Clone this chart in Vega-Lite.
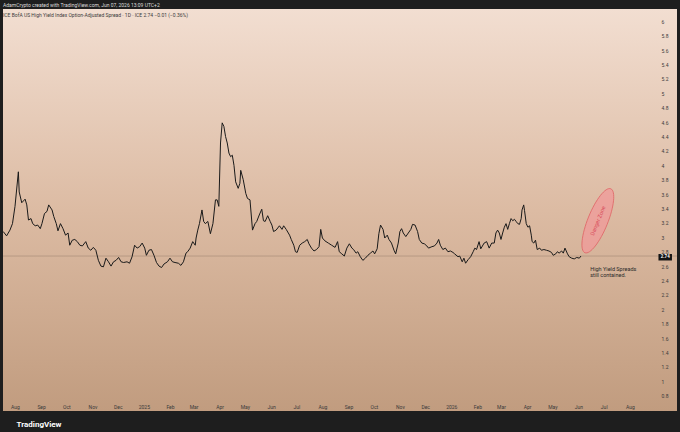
{
  "$schema": "https://vega.github.io/schema/vega-lite/v6.json",
  "width": 674,
  "height": 402,
  "autosize": {"type": "none"},
  "padding": {"left": 3, "top": 9, "right": 3, "bottom": 21},
  "background": "#1e1e1e",
  "config": {
    "font": "Roboto",
    "view": {
      "stroke": null,
      "fill": {"gradient": "linear", "x1": 0, "y1": 0, "x2": 0, "y2": 1,
        "stops": [{"offset": 0, "color": "#f2ded1"}, {"offset": 0.5, "color": "#dcbba3"}, {"offset": 1, "color": "#c19c7f"}]}
    },
    "axis": {"labelOverlap": false, "labelFlush": false, "domain": false, "ticks": false, "grid": false, "labelFontSize": 5, "labelColor": "#3a3a3a", "tickCount": 200},
    "axisX": {"labelPadding": 3, "labelBaseline": "top"},
    "axisY": {"labelPadding": 4, "labelAlign": "left"}
  },
  "title": {
    "text": "AdamCrypto created with TradingView.com, Jun 07, 2026 13:09 UTC+2",
    "subtitle": "\u00a0ICE BofA US High Yield Index Option-Adjusted Spread · 1D · ICE  2.74  −0.01 (−0.36%)",
    "anchor": "start",
    "frame": "group",
    "orient": "top",
    "offset": -8.5,
    "fontSize": 5,
    "fontWeight": "normal",
    "color": "#dddddd",
    "subtitleFontSize": 5,
    "subtitleColor": "#3b3b3b",
    "subtitlePadding": 4.5
  },
  "datasets": {
    "hy": [
      {"date": "2024-07-18", "spread": 3.08}, {"date": "2024-07-22", "spread": 3.02}, {"date": "2024-07-26", "spread": 3.10},
      {"date": "2024-07-29", "spread": 3.19}, {"date": "2024-08-01", "spread": 3.43}, {"date": "2024-08-05", "spread": 3.91},
      {"date": "2024-08-06", "spread": 3.63}, {"date": "2024-08-09", "spread": 3.48}, {"date": "2024-08-13", "spread": 3.53},
      {"date": "2024-08-15", "spread": 3.45}, {"date": "2024-08-17", "spread": 3.24}, {"date": "2024-08-20", "spread": 3.26},
      {"date": "2024-08-22", "spread": 3.19}, {"date": "2024-08-25", "spread": 3.16}, {"date": "2024-08-28", "spread": 3.17},
      {"date": "2024-08-31", "spread": 3.12}, {"date": "2024-09-02", "spread": 3.19}, {"date": "2024-09-05", "spread": 3.33},
      {"date": "2024-09-08", "spread": 3.36}, {"date": "2024-09-10", "spread": 3.45}, {"date": "2024-09-14", "spread": 3.38},
      {"date": "2024-09-16", "spread": 3.29}, {"date": "2024-09-19", "spread": 3.19}, {"date": "2024-09-21", "spread": 3.09},
      {"date": "2024-09-24", "spread": 3.19}, {"date": "2024-09-27", "spread": 3.12}, {"date": "2024-09-30", "spread": 3.03},
      {"date": "2024-10-03", "spread": 3.06}, {"date": "2024-10-05", "spread": 2.89}, {"date": "2024-10-08", "spread": 2.96},
      {"date": "2024-10-11", "spread": 2.97}, {"date": "2024-10-14", "spread": 2.94}, {"date": "2024-10-17", "spread": 2.89},
      {"date": "2024-10-20", "spread": 2.88}, {"date": "2024-10-24", "spread": 2.94}, {"date": "2024-10-27", "spread": 2.85},
      {"date": "2024-10-30", "spread": 2.82}, {"date": "2024-11-02", "spread": 2.86}, {"date": "2024-11-05", "spread": 2.82},
      {"date": "2024-11-08", "spread": 2.68}, {"date": "2024-11-11", "spread": 2.60}, {"date": "2024-11-14", "spread": 2.59},
      {"date": "2024-11-17", "spread": 2.71}, {"date": "2024-11-20", "spread": 2.66}, {"date": "2024-11-23", "spread": 2.60},
      {"date": "2024-11-26", "spread": 2.66}, {"date": "2024-11-29", "spread": 2.68}, {"date": "2024-12-02", "spread": 2.72},
      {"date": "2024-12-05", "spread": 2.66}, {"date": "2024-12-08", "spread": 2.65}, {"date": "2024-12-12", "spread": 2.66},
      {"date": "2024-12-15", "spread": 2.64}, {"date": "2024-12-18", "spread": 2.73}, {"date": "2024-12-21", "spread": 2.89},
      {"date": "2024-12-24", "spread": 2.85}, {"date": "2024-12-27", "spread": 2.87}, {"date": "2024-12-30", "spread": 2.92},
      {"date": "2025-01-02", "spread": 2.85}, {"date": "2025-01-04", "spread": 2.75}, {"date": "2025-01-07", "spread": 2.82},
      {"date": "2025-01-10", "spread": 2.83}, {"date": "2025-01-13", "spread": 2.75}, {"date": "2025-01-16", "spread": 2.65},
      {"date": "2025-01-19", "spread": 2.60}, {"date": "2025-01-22", "spread": 2.58}, {"date": "2025-01-25", "spread": 2.63},
      {"date": "2025-01-29", "spread": 2.66}, {"date": "2025-02-01", "spread": 2.71}, {"date": "2025-02-04", "spread": 2.66},
      {"date": "2025-02-07", "spread": 2.65}, {"date": "2025-02-11", "spread": 2.64}, {"date": "2025-02-14", "spread": 2.61},
      {"date": "2025-02-17", "spread": 2.66}, {"date": "2025-02-20", "spread": 2.78}, {"date": "2025-02-22", "spread": 2.80},
      {"date": "2025-02-25", "spread": 2.85}, {"date": "2025-02-28", "spread": 2.94}, {"date": "2025-03-03", "spread": 2.89},
      {"date": "2025-03-04", "spread": 2.99}, {"date": "2025-03-06", "spread": 3.10}, {"date": "2025-03-08", "spread": 3.19},
      {"date": "2025-03-11", "spread": 3.38}, {"date": "2025-03-13", "spread": 3.22}, {"date": "2025-03-15", "spread": 3.19},
      {"date": "2025-03-18", "spread": 3.22}, {"date": "2025-03-21", "spread": 3.05}, {"date": "2025-03-24", "spread": 3.19},
      {"date": "2025-03-27", "spread": 3.52}, {"date": "2025-03-29", "spread": 3.52}, {"date": "2025-03-31", "spread": 3.43},
      {"date": "2025-04-02", "spread": 4.31}, {"date": "2025-04-04", "spread": 4.59}, {"date": "2025-04-06", "spread": 4.54},
      {"date": "2025-04-08", "spread": 4.40}, {"date": "2025-04-10", "spread": 4.31}, {"date": "2025-04-12", "spread": 4.17},
      {"date": "2025-04-14", "spread": 4.12}, {"date": "2025-04-16", "spread": 4.14}, {"date": "2025-04-18", "spread": 4.00},
      {"date": "2025-04-20", "spread": 3.77}, {"date": "2025-04-23", "spread": 3.68}, {"date": "2025-04-25", "spread": 3.75},
      {"date": "2025-04-26", "spread": 3.93}, {"date": "2025-04-29", "spread": 3.80}, {"date": "2025-05-02", "spread": 3.61},
      {"date": "2025-05-04", "spread": 3.54}, {"date": "2025-05-07", "spread": 3.52}, {"date": "2025-05-10", "spread": 3.10},
      {"date": "2025-05-13", "spread": 3.19}, {"date": "2025-05-15", "spread": 3.22}, {"date": "2025-05-18", "spread": 3.31},
      {"date": "2025-05-21", "spread": 3.39}, {"date": "2025-05-23", "spread": 3.23}, {"date": "2025-05-25", "spread": 3.22},
      {"date": "2025-05-28", "spread": 3.30}, {"date": "2025-05-31", "spread": 3.22}, {"date": "2025-06-02", "spread": 3.17},
      {"date": "2025-06-04", "spread": 3.08}, {"date": "2025-06-07", "spread": 3.10}, {"date": "2025-06-11", "spread": 3.16},
      {"date": "2025-06-14", "spread": 3.11}, {"date": "2025-06-16", "spread": 3.16}, {"date": "2025-06-19", "spread": 3.11},
      {"date": "2025-06-23", "spread": 3.03}, {"date": "2025-06-25", "spread": 2.97}, {"date": "2025-06-28", "spread": 2.89},
      {"date": "2025-06-30", "spread": 2.80}, {"date": "2025-07-02", "spread": 2.79}, {"date": "2025-07-05", "spread": 2.89},
      {"date": "2025-07-08", "spread": 2.92}, {"date": "2025-07-11", "spread": 2.94}, {"date": "2025-07-14", "spread": 2.97},
      {"date": "2025-07-16", "spread": 2.91}, {"date": "2025-07-19", "spread": 2.85}, {"date": "2025-07-22", "spread": 2.81},
      {"date": "2025-07-25", "spread": 2.83}, {"date": "2025-07-28", "spread": 2.87}, {"date": "2025-07-30", "spread": 3.11},
      {"date": "2025-08-01", "spread": 2.99}, {"date": "2025-08-04", "spread": 2.95}, {"date": "2025-08-08", "spread": 2.92},
      {"date": "2025-08-12", "spread": 2.89}, {"date": "2025-08-16", "spread": 2.86}, {"date": "2025-08-19", "spread": 2.94},
      {"date": "2025-08-21", "spread": 2.80}, {"date": "2025-08-24", "spread": 2.77}, {"date": "2025-08-27", "spread": 2.74},
      {"date": "2025-08-30", "spread": 2.85}, {"date": "2025-09-02", "spread": 2.91}, {"date": "2025-09-05", "spread": 2.85},
      {"date": "2025-09-07", "spread": 2.83}, {"date": "2025-09-10", "spread": 2.78}, {"date": "2025-09-12", "spread": 2.80},
      {"date": "2025-09-15", "spread": 2.73}, {"date": "2025-09-18", "spread": 2.68}, {"date": "2025-09-21", "spread": 2.71},
      {"date": "2025-09-24", "spread": 2.75}, {"date": "2025-09-27", "spread": 2.78}, {"date": "2025-09-30", "spread": 2.81},
      {"date": "2025-10-02", "spread": 2.77}, {"date": "2025-10-05", "spread": 2.84}, {"date": "2025-10-07", "spread": 3.05},
      {"date": "2025-10-09", "spread": 3.17}, {"date": "2025-10-12", "spread": 3.11}, {"date": "2025-10-14", "spread": 2.99},
      {"date": "2025-10-17", "spread": 3.03}, {"date": "2025-10-19", "spread": 2.97}, {"date": "2025-10-22", "spread": 2.92},
      {"date": "2025-10-25", "spread": 2.82}, {"date": "2025-10-27", "spread": 2.77}, {"date": "2025-10-30", "spread": 2.92},
      {"date": "2025-11-01", "spread": 3.08}, {"date": "2025-11-03", "spread": 3.12}, {"date": "2025-11-05", "spread": 3.06},
      {"date": "2025-11-08", "spread": 3.01}, {"date": "2025-11-11", "spread": 3.06}, {"date": "2025-11-14", "spread": 3.11},
      {"date": "2025-11-16", "spread": 3.18}, {"date": "2025-11-19", "spread": 3.17}, {"date": "2025-11-22", "spread": 3.08},
      {"date": "2025-11-24", "spread": 2.97}, {"date": "2025-11-27", "spread": 2.92}, {"date": "2025-11-30", "spread": 2.91},
      {"date": "2025-12-03", "spread": 2.88}, {"date": "2025-12-05", "spread": 2.85}, {"date": "2025-12-09", "spread": 2.87},
      {"date": "2025-12-12", "spread": 2.88}, {"date": "2025-12-15", "spread": 2.92}, {"date": "2025-12-17", "spread": 2.97},
      {"date": "2025-12-19", "spread": 2.89}, {"date": "2025-12-22", "spread": 2.83}, {"date": "2025-12-25", "spread": 2.85},
      {"date": "2025-12-28", "spread": 2.80}, {"date": "2025-12-31", "spread": 2.81}, {"date": "2026-01-03", "spread": 2.79},
      {"date": "2026-01-05", "spread": 2.77}, {"date": "2026-01-09", "spread": 2.73}, {"date": "2026-01-11", "spread": 2.74},
      {"date": "2026-01-14", "spread": 2.66}, {"date": "2026-01-16", "spread": 2.71}, {"date": "2026-01-18", "spread": 2.64},
      {"date": "2026-01-21", "spread": 2.69}, {"date": "2026-01-24", "spread": 2.73}, {"date": "2026-01-27", "spread": 2.80},
      {"date": "2026-01-29", "spread": 2.85}, {"date": "2026-01-31", "spread": 2.83}, {"date": "2026-02-03", "spread": 2.94},
      {"date": "2026-02-05", "spread": 2.84}, {"date": "2026-02-09", "spread": 2.92}, {"date": "2026-02-12", "spread": 2.94},
      {"date": "2026-02-15", "spread": 2.85}, {"date": "2026-02-18", "spread": 2.92}, {"date": "2026-02-21", "spread": 2.92},
      {"date": "2026-02-23", "spread": 3.06}, {"date": "2026-02-25", "spread": 3.10}, {"date": "2026-02-27", "spread": 3.06},
      {"date": "2026-03-01", "spread": 2.97}, {"date": "2026-03-03", "spread": 3.06}, {"date": "2026-03-05", "spread": 3.14},
      {"date": "2026-03-07", "spread": 3.19}, {"date": "2026-03-09", "spread": 3.11}, {"date": "2026-03-11", "spread": 3.19},
      {"date": "2026-03-13", "spread": 3.26}, {"date": "2026-03-15", "spread": 3.23}, {"date": "2026-03-17", "spread": 3.25},
      {"date": "2026-03-19", "spread": 3.22}, {"date": "2026-03-21", "spread": 3.19}, {"date": "2026-03-23", "spread": 3.18},
      {"date": "2026-03-25", "spread": 3.26}, {"date": "2026-03-26", "spread": 3.38}, {"date": "2026-03-28", "spread": 3.45},
      {"date": "2026-03-29", "spread": 3.37}, {"date": "2026-03-31", "spread": 3.19}, {"date": "2026-04-02", "spread": 3.14},
      {"date": "2026-04-04", "spread": 3.16}, {"date": "2026-04-06", "spread": 3.03}, {"date": "2026-04-07", "spread": 2.94},
      {"date": "2026-04-09", "spread": 2.92}, {"date": "2026-04-11", "spread": 2.96}, {"date": "2026-04-13", "spread": 2.83},
      {"date": "2026-04-16", "spread": 2.85}, {"date": "2026-04-18", "spread": 2.82}, {"date": "2026-04-21", "spread": 2.83},
      {"date": "2026-04-24", "spread": 2.82}, {"date": "2026-04-27", "spread": 2.81}, {"date": "2026-04-30", "spread": 2.79},
      {"date": "2026-05-02", "spread": 2.75}, {"date": "2026-05-05", "spread": 2.77}, {"date": "2026-05-07", "spread": 2.80},
      {"date": "2026-05-09", "spread": 2.78}, {"date": "2026-05-12", "spread": 2.81}, {"date": "2026-05-14", "spread": 2.78},
      {"date": "2026-05-16", "spread": 2.85}, {"date": "2026-05-19", "spread": 2.77}, {"date": "2026-05-21", "spread": 2.73},
      {"date": "2026-05-24", "spread": 2.71}, {"date": "2026-05-27", "spread": 2.70}, {"date": "2026-05-30", "spread": 2.72},
      {"date": "2026-06-02", "spread": 2.71}, {"date": "2026-06-04", "spread": 2.74}
    ]
  },
  "layer": [
    {
      "data": {"values": [{}]},
      "mark": {"type": "rule", "stroke": "#8c7565", "strokeWidth": 0.6, "opacity": 0.7},
      "encoding": {"y": {"datum": 2.74, "type": "quantitative"}}
    },
    {
      "data": {"name": "hy"},
      "mark": {"type": "line", "stroke": "#1a1a1a", "strokeWidth": 1, "interpolate": "linear"},
      "encoding": {
        "x": {
          "field": "date",
          "type": "temporal",
          "scale": {
            "type": "utc",
            "nice": false,
            "domain": [
              {"year": 2024, "month": 7, "date": 17, "hours": 18, "utc": true},
              {"year": 2026, "month": 9, "date": 26, "utc": true}
            ]
          },
          "axis": {
            "orient": "bottom",
            "offset": -10,
            "tickCount": 200,
            "values": [
              {"year": 2024, "month": 8, "date": 1, "utc": true},
              {"year": 2024, "month": 9, "date": 1, "utc": true},
              {"year": 2024, "month": 10, "date": 1, "utc": true},
              {"year": 2024, "month": 11, "date": 1, "utc": true},
              {"year": 2024, "month": 12, "date": 1, "utc": true},
              {"year": 2025, "month": 1, "date": 1, "utc": true},
              {"year": 2025, "month": 2, "date": 1, "utc": true},
              {"year": 2025, "month": 3, "date": 1, "utc": true},
              {"year": 2025, "month": 4, "date": 1, "utc": true},
              {"year": 2025, "month": 5, "date": 1, "utc": true},
              {"year": 2025, "month": 6, "date": 1, "utc": true},
              {"year": 2025, "month": 7, "date": 1, "utc": true},
              {"year": 2025, "month": 8, "date": 1, "utc": true},
              {"year": 2025, "month": 9, "date": 1, "utc": true},
              {"year": 2025, "month": 10, "date": 1, "utc": true},
              {"year": 2025, "month": 11, "date": 1, "utc": true},
              {"year": 2025, "month": 12, "date": 1, "utc": true},
              {"year": 2026, "month": 1, "date": 1, "utc": true},
              {"year": 2026, "month": 2, "date": 1, "utc": true},
              {"year": 2026, "month": 3, "date": 1, "utc": true},
              {"year": 2026, "month": 4, "date": 1, "utc": true},
              {"year": 2026, "month": 5, "date": 1, "utc": true},
              {"year": 2026, "month": 6, "date": 1, "utc": true},
              {"year": 2026, "month": 7, "date": 1, "utc": true},
              {"year": 2026, "month": 8, "date": 1, "utc": true}
            ],
            "labelExpr": "utcFormat(datum.value, '%m') == '01' ? utcFormat(datum.value, '%Y') : utcFormat(datum.value, '%b')",
            "title": "TradingView",
            "titleX": 13,
            "titleY": 23,
            "titleAnchor": "start",
            "titleAlign": "left",
            "titleBaseline": "middle",
            "titleFontSize": 8,
            "titleFontWeight": "bold",
            "titleColor": "#ffffff"
          }
        },
        "y": {
          "field": "spread",
          "type": "quantitative",
          "scale": {"domain": [0.5875, 6.171], "nice": false, "zero": false},
          "axis": {
            "orient": "right",
            "offset": -20,
            "title": null,
            "format": "~g",
            "tickCount": 200,
            "values": [0.8, 1, 1.2, 1.4, 1.6, 1.8, 2, 2.2, 2.4, 2.6, 2.8, 3, 3.2, 3.4, 3.6, 3.8, 4, 4.2, 4.4, 4.6, 4.8, 5, 5.2, 5.4, 5.6, 5.8, 6]
          }
        }
      }
    },
    {
      "data": {"values": [{}]},
      "mark": {"type": "point", "shape": "M 0 -1 A 0.29 1 0 1 1 0 1 A 0.29 1 0 1 1 0 -1 Z", "size": 4761, "angle": 22, "filled": true, "fill": "#f09a9a", "fillOpacity": 0.75, "stroke": "#e06a6a", "strokeWidth": 0.8, "opacity": 1},
      "encoding": {
        "x": {"datum": {"year": 2026, "month": 6, "date": 24, "utc": true}, "type": "temporal"},
        "y": {"datum": 3.23, "type": "quantitative"}
      }
    },
    {
      "data": {"values": [{}]},
      "mark": {"type": "text", "angle": -68, "fontSize": 5.5, "color": "#d94a5a"},
      "encoding": {
        "x": {"datum": {"year": 2026, "month": 6, "date": 24, "utc": true}, "type": "temporal"},
        "y": {"datum": 3.23, "type": "quantitative"},
        "text": {"value": "Danger Zone"}
      }
    },
    {
      "data": {"values": [{}]},
      "mark": {"type": "text", "align": "left", "baseline": "top", "fontSize": 5.5, "lineHeight": 5.8, "color": "#2a2a2a"},
      "encoding": {
        "x": {"datum": {"year": 2026, "month": 6, "date": 15, "utc": true}, "type": "temporal"},
        "y": {"datum": 2.582, "type": "quantitative"},
        "text": {"value": ["High Yield Spreads", "still contained."]}
      }
    },
    {
      "data": {"values": [{}]},
      "mark": {"type": "rect", "color": "#131313"},
      "encoding": {
        "x": {"datum": {"year": 2026, "month": 9, "date": 4, "utc": true}, "type": "temporal"},
        "x2": {"datum": {"year": 2026, "month": 9, "date": 20, "utc": true}},
        "y": {"datum": 2.678, "type": "quantitative"},
        "y2": {"datum": 2.768}
      }
    },
    {
      "data": {"values": [{}]},
      "mark": {"type": "text", "fontSize": 4.5, "fontWeight": "bold", "color": "#ffffff"},
      "encoding": {
        "x": {"datum": {"year": 2026, "month": 9, "date": 12, "utc": true}, "type": "temporal"},
        "y": {"datum": 2.72, "type": "quantitative"},
        "text": {"value": "2.74"}
      }
    }
  ]
}
